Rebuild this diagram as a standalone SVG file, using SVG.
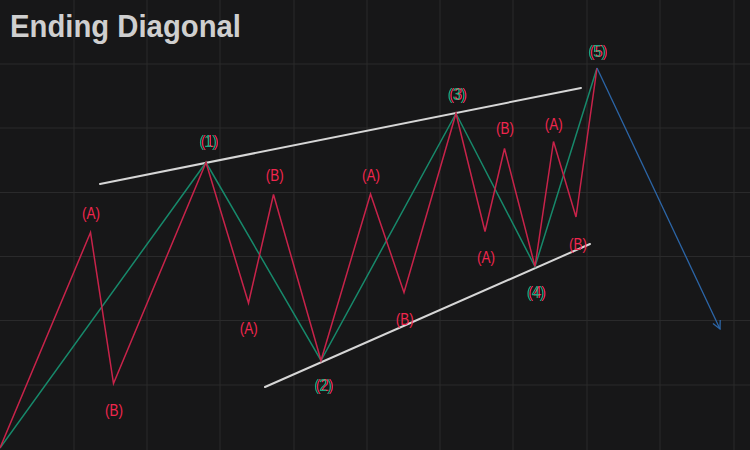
<svg xmlns="http://www.w3.org/2000/svg" width="750" height="450" viewBox="0 0 750 450">
<defs>
<style>
.grid line{stroke:#2a2a2b;stroke-width:1}
.red{fill:none;stroke:#c8234a;stroke-width:1.5;stroke-linejoin:miter}
.green{fill:none;stroke:#17896b;stroke-width:1.5}
.trend{stroke:#d6d6d6;stroke-width:2;stroke-linecap:round}
.blue{fill:none;stroke:#2c66a8;stroke-width:1.3}
.lbl{font-family:"Liberation Sans","DejaVu Sans",sans-serif;font-size:16px;text-anchor:middle}
.r{fill:#f0264e}
.g{fill:#1aa583;filter:url(#ghost)}
.title{font-family:"Liberation Sans","DejaVu Sans",sans-serif;font-weight:bold;font-size:31px;fill:#cfcfcf}
</style>
<filter id="ghost" x="-30%" y="-30%" width="160%" height="160%">
<feOffset in="SourceAlpha" dx="2" dy="0" result="off"/>
<feFlood flood-color="#f0264e"/>
<feComposite in2="off" operator="in" result="redghost"/>
<feMerge>
<feMergeNode in="redghost"/>
<feMergeNode in="SourceGraphic"/>
</feMerge>
</filter>
<marker id="arr" viewBox="0 0 10 10" refX="9" refY="5" markerWidth="10" markerHeight="10" markerUnits="userSpaceOnUse" orient="auto">
<path d="M1,1 L9,5 L1,9" fill="none" stroke="#2c66a8" stroke-width="1.3"/>
</marker>
</defs>
<rect width="750" height="450" fill="#171718"/>
<g class="grid">
<line x1="0" y1="64" x2="750" y2="64"/>
<line x1="0" y1="128" x2="750" y2="128"/>
<line x1="0" y1="192.5" x2="750" y2="192.5"/>
<line x1="0" y1="256.5" x2="750" y2="256.5"/>
<line x1="0" y1="320.5" x2="750" y2="320.5"/>
<line x1="0" y1="385" x2="750" y2="385"/>
<line x1="74" y1="0" x2="74" y2="450"/>
<line x1="147" y1="0" x2="147" y2="450"/>
<line x1="220" y1="0" x2="220" y2="450"/>
<line x1="294" y1="0" x2="294" y2="450"/>
<line x1="367" y1="0" x2="367" y2="450"/>
<line x1="440" y1="0" x2="440" y2="450"/>
<line x1="513" y1="0" x2="513" y2="450"/>
<line x1="587" y1="0" x2="587" y2="450"/>
<line x1="660" y1="0" x2="660" y2="450"/>
<line x1="734" y1="0" x2="734" y2="450"/>
</g>
<text class="title" x="10" y="37" textLength="231" lengthAdjust="spacingAndGlyphs">Ending Diagonal</text>
<g id="connectors">
<line class="trend" x1="100" y1="184" x2="581" y2="88"/>
<line class="trend" x1="265" y1="387" x2="590" y2="244"/>
<polyline class="green" points="0,448 206,162.5 321,360.5 456,113.5 535,266.5 597,68"/>
<polyline class="red" points="0,448 90.5,232.5 113.5,383.5 206,162.5 248.5,303 273.5,194.5 321,360.5 370.5,194 404,292.5 456,113.5 485,231.5 504.5,148.5 535,266.5 553.5,141.5 576,217 597,68"/>
<line class="blue" x1="597" y1="68" x2="720" y2="329" marker-end="url(#arr)"/>
</g>
<g id="wave1">
<text class="lbl r" x="91" y="219" textLength="18" lengthAdjust="spacingAndGlyphs">(A)</text>
<text class="lbl r" x="114" y="416" textLength="18" lengthAdjust="spacingAndGlyphs">(B)</text>
<text class="lbl g" x="208" y="147" textLength="18" lengthAdjust="spacingAndGlyphs">(1)</text>
</g>
<g id="wave2">
<text class="lbl r" x="248.8" y="334" textLength="18" lengthAdjust="spacingAndGlyphs">(A)</text>
<text class="lbl r" x="274.8" y="181" textLength="18" lengthAdjust="spacingAndGlyphs">(B)</text>
<text class="lbl g" x="323" y="391" textLength="18" lengthAdjust="spacingAndGlyphs">(2)</text>
</g>
<g id="wave3">
<text class="lbl r" x="371" y="181" textLength="18" lengthAdjust="spacingAndGlyphs">(A)</text>
<text class="lbl r" x="404.7" y="325" textLength="18" lengthAdjust="spacingAndGlyphs">(B)</text>
<text class="lbl g" x="456.5" y="100" textLength="18" lengthAdjust="spacingAndGlyphs">(3)</text>
</g>
<g id="wave4">
<text class="lbl r" x="486" y="263" textLength="18" lengthAdjust="spacingAndGlyphs">(A)</text>
<text class="lbl r" x="505" y="134" textLength="18" lengthAdjust="spacingAndGlyphs">(B)</text>
<text class="lbl g" x="535.5" y="298" textLength="18" lengthAdjust="spacingAndGlyphs">(4)</text>
</g>
<g id="wave5">
<text class="lbl r" x="553.7" y="130" textLength="18" lengthAdjust="spacingAndGlyphs">(A)</text>
<text class="lbl r" x="578" y="250" textLength="18" lengthAdjust="spacingAndGlyphs">(B)</text>
<text class="lbl g" x="597" y="57" textLength="18" lengthAdjust="spacingAndGlyphs">(5)</text>
</g>
</svg>
